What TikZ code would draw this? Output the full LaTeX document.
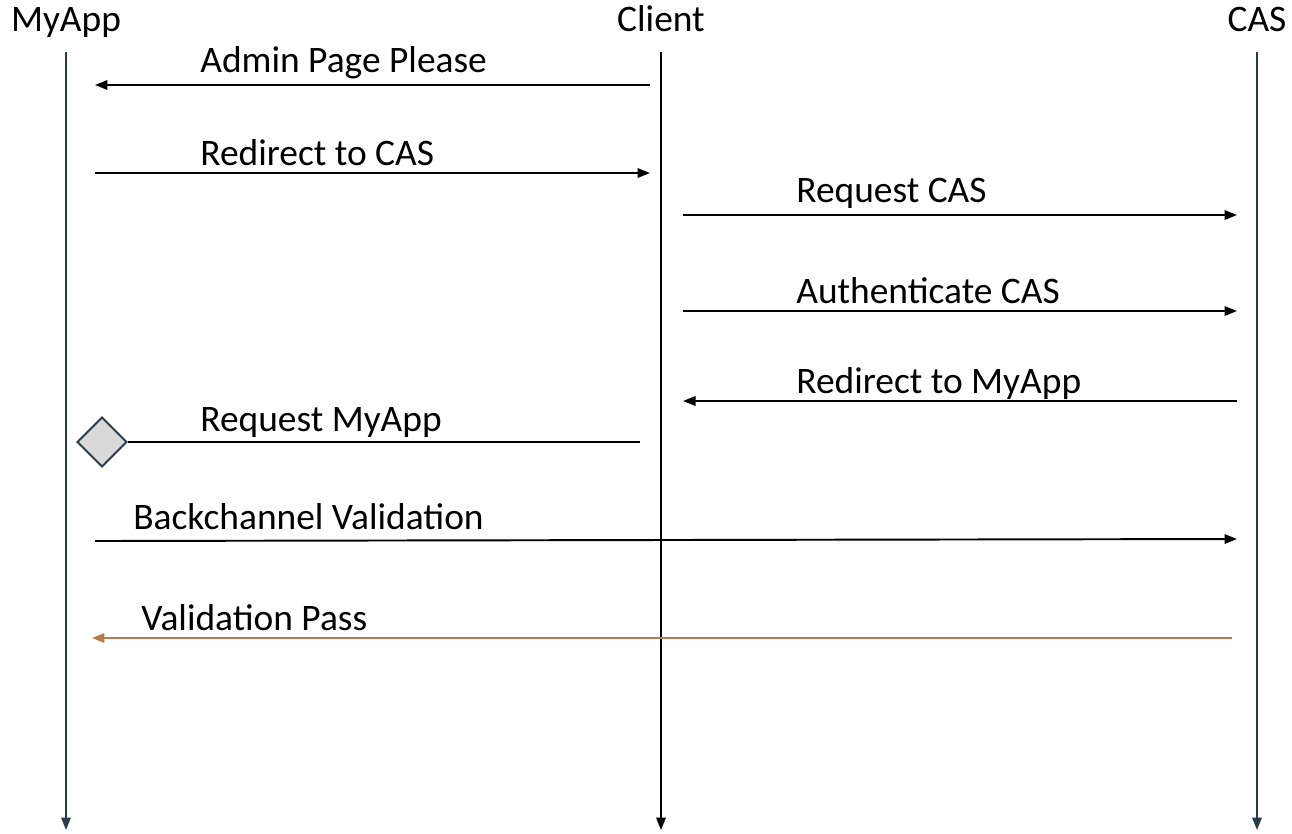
\documentclass[tikz,border=0pt]{standalone}
\usepackage{fontspec}
\setmainfont{Carlito}
\usetikzlibrary{arrows.meta, shapes.geometric, positioning}

\definecolor{slate}{RGB}{40,60,76}
\definecolor{rust}{RGB}{184,124,82}
\definecolor{diamondgray}{RGB}{217,217,217}

\begin{document}
\begin{tikzpicture}[
    x=0.02cm, y=-0.02cm,
    font=\fontsize{21.3}{25}\selectfont,
    % Estilos
    head/.style={anchor=base, inner sep=0pt},
    msgtext/.style={anchor=base west, inner sep=0pt},
    tip/.style={-{Triangle[length=2.5mm, width=1.9mm]}},
    life/.style={tip, line width=1.1pt},
    msg/.style={tip, line width=1.1pt, color=black},
    gate/.style={
        diamond, draw=slate, fill=diamondgray, line width=1.1pt,
        minimum size=1cm, inner sep=0pt
    }
]

    % --- CABEÇALHOS ---
    \useasboundingbox (0,0) rectangle (1292,833);
    \node[head] (app) at (66,31) {MyApp};
    \node[head] (client) at (661,31) {Client};
    \node[head] (cas) at (1257,31) {CAS};

    % Linhas de vida
    \coordinate (app_top) at (66,52);       \coordinate (app_end) at (66,830);
    \coordinate (client_top) at (661,52);   \coordinate (client_end) at (661,830);
    \coordinate (cas_top) at (1257,52);     \coordinate (cas_end) at (1257,830);

    \draw[life, color=slate] (app_top) -- (app_end);
    \draw[life, color=black] (client_top) -- (client_end);
    \draw[life, color=slate] (cas_top) -- (cas_end);

    % --- MENSAGENS ---
    % Pontas das setas (inicio / fim)
    \coordinate (m1a) at (650,85);   \coordinate (m1b) at (95,85);
    \coordinate (m2a) at (95,173);   \coordinate (m2b) at (650,173);
    \coordinate (m3a) at (683,215);  \coordinate (m3b) at (1237,215);
    \coordinate (m4a) at (683,311);  \coordinate (m4b) at (1237,311);
    \coordinate (m5a) at (1237,401); \coordinate (m5b) at (683,401);
    \coordinate (m6a) at (640,442);
    \coordinate (m7a) at (95,541);   \coordinate (m7b) at (1237,539);
    \coordinate (m8a) at (1232,638); \coordinate (m8b) at (92,638);

    \node[gate] (m6b) at (102,442) {};

    \draw[msg] (m1a) -- (m1b);
    \draw[msg] (m2a) -- (m2b);
    \draw[msg] (m3a) -- (m3b);
    \draw[msg] (m4a) -- (m4b);
    \draw[msg] (m5a) -- (m5b);
    \draw[line width=1.1pt] (m6a) -- (m6b.east);
    \draw[msg] (m7a) -- (m7b);
    \draw[msg, color=rust] (m8a) -- (m8b);

    % Textos das mensagens
    \node[msgtext] (t1) at (200,72) {Admin Page Please};
    \node[msgtext] (t2) at (200,165) {Redirect to CAS};
    \node[msgtext] (t3) at (796,202) {Request CAS};
    \node[msgtext] (t4) at (796,303) {Authenticate CAS};
    \node[msgtext] (t5) at (796,393) {Redirect to MyApp};
    \node[msgtext] (t6) at (200,431) {Request MyApp};
    \node[msgtext] (t7) at (133,529) {Backchannel Validation};
    \node[msgtext] (t8) at (141,630) {Validation Pass};

\end{tikzpicture}
\end{document}
